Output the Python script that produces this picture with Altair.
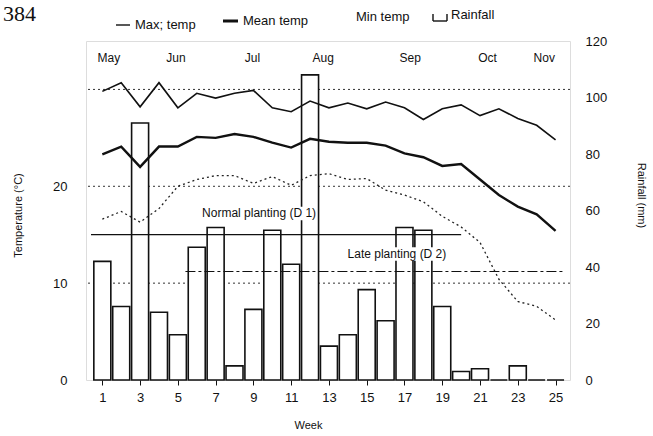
import altair as alt
import pandas as pd

# ---------------- data ----------------
weeks = list(range(1, 26))
rainfall = [42, 26, 91, 24, 16, 47, 54, 5, 25, 53, 41, 108, 12, 16, 32, 21,
            54, 53, 26, 3, 4, 0, 5, 0, 0]
max_temp = [29.8, 30.7, 28.2, 30.7, 28.1, 29.6, 29.1, 29.6, 29.9, 28.1, 27.7,
            28.8, 28.1, 28.6, 28.0, 28.7, 28.1, 26.9, 28.0, 28.4, 27.3, 28.0,
            27.0, 26.3, 24.8]
mean_temp = [23.3, 24.1, 22.0, 24.1, 24.1, 25.1, 25.0, 25.4, 25.1, 24.5, 24.0,
             24.9, 24.6, 24.5, 24.5, 24.2, 23.4, 23.0, 22.1, 22.3, 20.7, 19.1,
             17.9, 17.1, 15.4]
min_temp = [16.6, 17.4, 16.3, 17.7, 20.0, 20.7, 21.1, 21.1, 20.3, 21.0, 20.1,
            21.1, 21.3, 20.7, 20.8, 19.6, 19.1, 18.4, 16.9, 15.8, 14.2, 10.4,
            8.1, 7.6, 6.2]

threshold_levels = [10, 20, 30]

planting_names = ["Normal planting (D 1)", "Late planting (D 2)"]
planting_start = [0.4, 5.4]
planting_end = [20.0, 25.5]
planting_level = [15.0, 11.2]
planting_label_week = [9.3, 16.6]
planting_label_level = [17.2, 13.0]

months = ["May", "Jun", "Jul", "Aug", "Sep", "Oct", "Nov"]
month_week = [1.35, 4.9, 8.95, 12.7, 17.3, 21.4, 24.4]

week_ticks = list(range(1, 26, 2))
temp_ticks = [0, 10, 20]
rain_ticks = [0, 20, 40, 60, 80, 100, 120]

# ---------------- settings ----------------
FONT = "Liberation Sans"
INK = "#111111"
W, H = 484, 339
xscale = alt.Scale(domain=[0.4, 25.5], nice=False, zero=False)
tscale = alt.Scale(domain=[0, 35], nice=False)
rscale = alt.Scale(domain=[0, 120], nice=False)

xaxis = alt.Axis(values=week_ticks, title="Week", grid=False, domain=False,
                 ticks=True, tickSize=5, tickColor=INK, labelPadding=6,
                 labelFontSize=13, labelColor=INK, labelFont=FONT,
                 titleFont=FONT, titleFontSize=11, titleFontWeight="normal",
                 titleColor=INK, titleX=222, titleY=45, titleBaseline="middle")
taxis = alt.Axis(orient="left", values=temp_ticks, title="Temperature (°C)",
                 grid=False, domain=False, ticks=False, labelPadding=19,
                 labelFontSize=13, labelColor=INK, labelFont=FONT,
                 titleFont=FONT, titleFontSize=11, titleFontWeight="normal",
                 titleColor=INK, titleX=-68, titleY=174, titleAngle=-90,
                 titleAlign="center", titleBaseline="middle")
raxis = alt.Axis(orient="right", values=rain_ticks, title="Rainfall (mm)",
                 grid=False, domain=False, ticks=False, labelPadding=15,
                 labelFontSize=13, labelColor=INK, labelFont=FONT,
                 titleFont=FONT, titleFontSize=11, titleFontWeight="normal",
                 titleColor=INK, titleX=70, titleY=154, titleAngle=90,
                 titleAlign="center", titleBaseline="middle")

# ---------------- tables ----------------
df_rain = pd.DataFrame({"week": weeks, "rain": rainfall})
df_max = pd.DataFrame({"week": weeks, "temp": max_temp})
df_mean = pd.DataFrame({"week": weeks, "temp": mean_temp})
df_min = pd.DataFrame({"week": weeks, "temp": min_temp})
df_thr = pd.DataFrame({"level": threshold_levels})
df_plant = pd.DataFrame({"name": planting_names, "start": planting_start,
                         "end": planting_end, "level": planting_level,
                         "lw": planting_label_week, "ll": planting_label_level})
df_month = pd.DataFrame({"month": months, "week": month_week})
one = pd.DataFrame({"k": [0]})

# ---------------- background layer (temperature scale, left axis) ----------------
thr = alt.Chart(df_thr).mark_rule(color="#333333", strokeWidth=1,
                                  strokeDash=[2, 3]).encode(
    y=alt.Y("level:Q", scale=tscale, axis=taxis))

background = thr

# ---------------- bars (rainfall, right axis) ----------------
bars = alt.Chart(df_rain).mark_bar(size=17, fill="white", stroke=INK,
                                   strokeWidth=1.6).encode(
    x=alt.X("week:Q", scale=xscale, axis=xaxis),
    y=alt.Y("rain:Q", scale=rscale, axis=raxis))

# ---------------- foreground (planting periods, temperature lines, texts) ----------------
plant_normal = alt.Chart(df_plant.iloc[[0]]).mark_rule(
    color=INK, strokeWidth=1.2).encode(
    x=alt.X("start:Q", scale=xscale, axis=xaxis), x2="end:Q",
    y=alt.Y("level:Q", scale=tscale, axis=None))
plant_late = alt.Chart(df_plant.iloc[[1]]).mark_rule(
    color=INK, strokeWidth=1.2, strokeDash=[10, 3, 3, 3]).encode(
    x=alt.X("start:Q", scale=xscale, axis=xaxis), x2="end:Q",
    y=alt.Y("level:Q", scale=tscale, axis=None))

line_max = alt.Chart(df_max).mark_line(color=INK, strokeWidth=1.6).encode(
    x=alt.X("week:Q", scale=xscale, axis=xaxis),
    y=alt.Y("temp:Q", scale=tscale, axis=None))
line_mean = alt.Chart(df_mean).mark_line(color=INK, strokeWidth=2.4).encode(
    x=alt.X("week:Q", scale=xscale, axis=xaxis),
    y=alt.Y("temp:Q", scale=tscale, axis=None))
line_min = alt.Chart(df_min).mark_line(color="#222222", strokeWidth=1.3,
                                       strokeDash=[2, 3]).encode(
    x=alt.X("week:Q", scale=xscale, axis=xaxis),
    y=alt.Y("temp:Q", scale=tscale, axis=None))
# white label backgrounds (as in the printed figure)
plant_bg = alt.Chart(df_plant).transform_calculate(
    bx1="datum.lw - 2.95", bx2="datum.lw + 2.95",
    by1="datum.ll - 0.7", by2="datum.ll + 0.7",
).mark_rect(fill="white", strokeWidth=0).encode(
    x=alt.X("bx1:Q", scale=xscale, axis=xaxis), x2="bx2:Q",
    y=alt.Y("by1:Q", scale=tscale, axis=None), y2="by2:Q")
plant_text = alt.Chart(df_plant).mark_text(font=FONT, fontSize=12, color=INK,
                                           baseline="middle").encode(
    x=alt.X("lw:Q", scale=xscale, axis=xaxis),
    y=alt.Y("ll:Q", scale=tscale, axis=None), text="name:N")
month_text = alt.Chart(df_month).mark_text(font=FONT, fontSize=12, color=INK,
                                           baseline="middle").encode(
    x=alt.X("week:Q", scale=xscale, axis=xaxis),
    y=alt.value(17), text="month:N")

foreground = alt.layer(plant_normal, plant_late, line_max, line_mean, line_min,
                       plant_bg, plant_text, month_text)

# ---------------- custom legend + page number ----------------
def seg(x1, x2, y, w, dash=None):
    kw = dict(color=INK, strokeWidth=w)
    if dash:
        kw["strokeDash"] = dash
    return alt.Chart(one).mark_rule(**kw).encode(
        x=alt.value(x1), x2=alt.value(x2), y=alt.value(y))

def vseg(x, y1, y2, w):
    return alt.Chart(one).mark_rule(color=INK, strokeWidth=w).encode(
        x=alt.value(x), y=alt.value(y1), y2=alt.value(y2))

def label(txt, x, y, size=13, font=FONT):
    return alt.Chart(one).mark_text(text=txt, font=font, fontSize=size,
                                    color=INK, align="left",
                                    baseline="middle").encode(
        x=alt.value(x), y=alt.value(y))

legend = alt.layer(
    seg(30, 44, -16, 1.4), label("Max; temp", 49, -16),
    seg(137, 152, -20, 3), label("Mean temp", 157, -20),
    label("Min temp", 270, -24),
    vseg(347, -27, -20, 1.4), vseg(361, -27, -20, 1.4), seg(347, 361, -20, 1.4),
    label("Rainfall", 365, -26),
    label("384", -83, -27, size=22, font="Liberation Serif"),
)

chart = alt.layer(background, bars, foreground, legend).resolve_scale(
    y="independent"
).properties(
    width=W, height=H,
    autosize="none",
    padding={"left": 86, "top": 41, "right": 83, "bottom": 56},
).configure_view(stroke=INK, strokeWidth=1.6).configure(background="white")

chart.save("out.html", embed_options={"renderer": "svg", "actions": False})
